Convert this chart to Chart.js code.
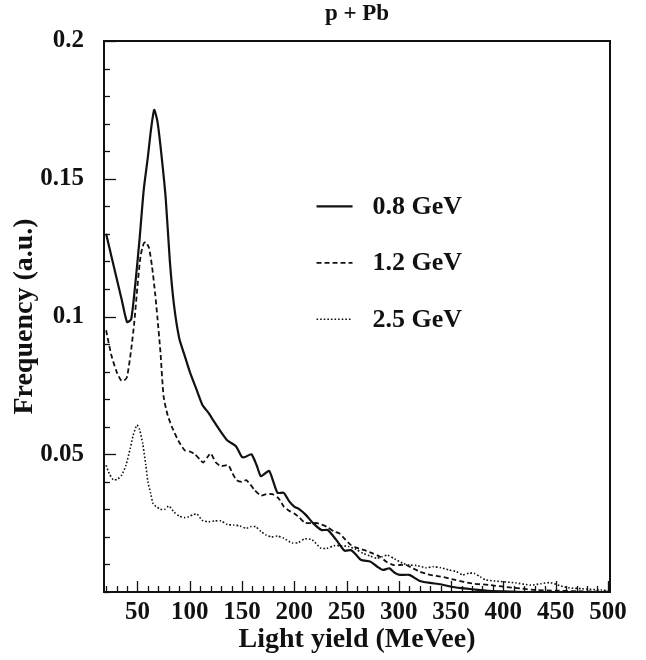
<!DOCTYPE html>
<html>
<head>
<meta charset="utf-8">
<script src="https://cdn.jsdelivr.net/npm/chart.js@4.4.1/dist/chart.umd.min.js"></script>
<style>
  html, body { margin: 0; padding: 0; background: #fff; }
  #wrap { width: 646px; height: 660px; }
</style>
</head>
<body>
<div id="wrap"><canvas id="chart"></canvas></div>
<script>
// ============= DATA =============

const chartTitle = 'p + Pb';
const seriesLabels = ['0.8 GeV', '1.2 GeV', '2.5 GeV'];

// 0.8 GeV (solid)
const x08 = [20, 25, 30, 35, 40, 44, 48, 52, 56, 60, 63, 66, 69, 72, 77, 81, 85, 90, 95, 100,
    106, 112, 118, 123, 130, 136, 144, 150, 153, 159, 164, 168, 172, 176, 180, 184, 190, 195, 200, 205,
    211, 218, 226, 232, 240, 248, 254, 258, 264, 273, 280, 285, 291, 296, 301, 310, 320, 330, 340, 350,
    360, 370, 385, 400, 420, 450, 480, 500];
const y08 = [0.130, 0.122, 0.114, 0.106, 0.098, 0.099, 0.112, 0.128, 0.146, 0.158, 0.168, 0.175, 0.171, 0.162, 0.143, 0.120, 0.104, 0.092, 0.086, 0.080,
    0.074, 0.068, 0.065, 0.062, 0.058, 0.055, 0.053, 0.049, 0.049, 0.050, 0.046, 0.042, 0.043, 0.044, 0.040, 0.036, 0.036, 0.033, 0.031, 0.030,
    0.028, 0.025, 0.0225, 0.0225, 0.019, 0.015, 0.0152, 0.014, 0.0116, 0.011, 0.009, 0.008, 0.0086, 0.007, 0.0062, 0.0062, 0.0040, 0.0033, 0.0028, 0.0019,
    0.0014, 0.0010, 0.0004, 0.0002, 0, 0, 0, 0];

// 1.2 GeV (dashed)
const x12 = [20, 25, 30, 34, 37, 40, 44, 47, 50, 53, 56, 58, 61, 64, 67, 69, 72, 75, 79, 84,
    89, 95, 100, 105, 110, 113, 117, 120, 125, 130, 137, 141, 145, 150, 154, 158, 162, 168, 173, 179,
    185, 190, 195, 200, 205, 210, 216, 222, 231, 238, 243, 249, 254, 260, 267, 275, 282, 288, 295, 301,
    307, 314, 320, 330, 340, 354, 370, 388, 400, 416, 431, 450, 470, 500];
const y12 = [0.095, 0.086, 0.080, 0.077, 0.0767, 0.078, 0.088, 0.098, 0.111, 0.122, 0.1265, 0.127, 0.125, 0.118, 0.108, 0.100, 0.087, 0.071, 0.064, 0.059,
    0.055, 0.0515, 0.051, 0.050, 0.048, 0.047, 0.049, 0.0503, 0.047, 0.0457, 0.046, 0.043, 0.0406, 0.040, 0.0406, 0.039, 0.037, 0.035, 0.0355, 0.0355,
    0.034, 0.031, 0.0295, 0.0285, 0.027, 0.0252, 0.025, 0.025, 0.0237, 0.022, 0.0213, 0.019, 0.0171, 0.016, 0.0152, 0.014, 0.0128, 0.011, 0.0098, 0.0098,
    0.0098, 0.0085, 0.0074, 0.0062, 0.0056, 0.0044, 0.0031, 0.0025, 0.0019, 0.0013, 0.0007, 0.0005, 0.0003, 0.0001];

// 2.5 GeV (dotted)
const x25 = [20, 23, 27, 31, 35, 39, 43, 46, 49.5, 52, 55, 58, 60, 62.5, 65, 68, 72, 76, 80, 85,
    90, 95, 99, 103, 107, 112, 118, 124, 130, 136, 142, 148, 154, 158, 163, 168, 173, 178, 184, 190,
    198, 204, 210, 217, 225, 231, 238, 245, 252, 259, 266, 273, 279, 284, 289, 296, 304, 310, 317, 326,
    333, 340, 348, 355, 361, 367, 372, 378, 383, 392, 400, 412, 426, 436, 445, 455, 463, 475, 494, 500];
const y25 = [0.046, 0.043, 0.0407, 0.041, 0.0425, 0.046, 0.052, 0.057, 0.0606, 0.059, 0.054, 0.046, 0.040, 0.036, 0.032, 0.031, 0.030, 0.030, 0.0312, 0.029,
    0.0275, 0.027, 0.0273, 0.028, 0.0283, 0.026, 0.0255, 0.0258, 0.0258, 0.0245, 0.0243, 0.024, 0.0231, 0.0237, 0.0237, 0.022, 0.0207, 0.020, 0.0203, 0.0195,
    0.0178, 0.018, 0.0193, 0.019, 0.016, 0.0158, 0.0168, 0.0168, 0.0165, 0.0155, 0.014, 0.013, 0.0122, 0.0128, 0.0134, 0.012, 0.0104, 0.0098, 0.0096, 0.0088,
    0.0092, 0.0088, 0.008, 0.0074, 0.0062, 0.0068, 0.0068, 0.0055, 0.0044, 0.004, 0.0037, 0.0033, 0.0025, 0.003, 0.0034, 0.0022, 0.0015, 0.0012, 0.0007, 0.0005];

// Axis ticks
const xMajorTicks = [50, 100, 150, 200, 250, 300, 350, 400, 450, 500];
const xMinorStep = 10;
const yMajorTicks = [0.05, 0.1, 0.15, 0.2];
const yMinorStep = 0.01;

const FONT = "'Liberation Serif', 'DejaVu Serif', serif";
const INK = '#111';

// ============= HELPERS =============

function toPoints(xs, ys) {
    return xs.map((x, i) => ({ x: x, y: ys[i] }));
}

function isMajor(list, v) {
    return list.some(m => Math.abs(m - v) < 1e-6);
}

// title over the plot, frame, inward ticks and legend (like the original plot)
const frameAndLegend = {
    id: 'frameAndLegend',
    afterDatasetsDraw(chart) {
        const { ctx, chartArea: a, scales: { x, y } } = chart;
        ctx.save();
        ctx.strokeStyle = INK;
        ctx.fillStyle = INK;
        ctx.setLineDash([]);

        // title centred over the plot area
        ctx.font = 'bold 23px ' + FONT;
        ctx.textAlign = 'center';
        ctx.textBaseline = 'middle';
        ctx.fillText(chartTitle, (a.left + a.right) / 2, 14);

        // x ticks (pointing up)
        ctx.lineWidth = 1.3;
        x.ticks.forEach(t => {
            const px = Math.round(x.getPixelForValue(t.value)) + 0.5;
            const len = isMajor(xMajorTicks, t.value) ? 11 : 6;
            ctx.beginPath();
            ctx.moveTo(px, a.bottom);
            ctx.lineTo(px, a.bottom - len);
            ctx.stroke();
        });

        // y ticks (pointing right)
        y.ticks.forEach(t => {
            const py = Math.round(y.getPixelForValue(t.value)) + 0.5;
            const len = isMajor(yMajorTicks, t.value) ? 12 : 6;
            ctx.beginPath();
            ctx.moveTo(a.left, py);
            ctx.lineTo(a.left + len, py);
            ctx.stroke();
        });

        // frame
        ctx.lineWidth = 2;
        ctx.strokeRect(a.left, a.top, a.width, a.height);

        // legend
        const lx = a.left + a.width * 0.42;
        const ly = a.top + a.height * 0.30;
        const rowStep = a.height * 0.1025;
        ctx.font = 'bold 26px ' + FONT;
        ctx.textAlign = 'left';
        chart.data.datasets.forEach((ds, i) => {
            const yy = ly + i * rowStep;
            ctx.lineWidth = ds.borderWidth;
            ctx.setLineDash(ds.borderDash || []);
            ctx.beginPath();
            ctx.moveTo(lx, yy);
            ctx.lineTo(lx + 36, yy);
            ctx.stroke();
            ctx.fillText(ds.label, lx + 56, yy + 1);
        });
        ctx.restore();
    }
};

// ============= CHART =============

const ctx = document.getElementById('chart').getContext('2d');
const chart = new Chart(ctx, {
    type: 'line',
    data: {
        datasets: [
            {
                label: seriesLabels[0],
                data: toPoints(x08, y08),
                borderColor: INK,
                borderWidth: 2.2,
                borderDash: [],
                pointRadius: 0,
                tension: 0.2
            },
            {
                label: seriesLabels[1],
                data: toPoints(x12, y12),
                borderColor: INK,
                borderWidth: 1.8,
                borderDash: [5, 3],
                pointRadius: 0,
                tension: 0.2
            },
            {
                label: seriesLabels[2],
                data: toPoints(x25, y25),
                borderColor: INK,
                borderWidth: 1.6,
                borderDash: [1.6, 2],
                pointRadius: 0,
                tension: 0.2
            }
        ]
    },
    options: {
        responsive: true,
        maintainAspectRatio: false,
        animation: false,
        layout: {
            padding: { top: 41, right: 36, bottom: 0, left: 0 }
        },
        plugins: {
            legend: { display: false },
            tooltip: { enabled: false },
            title: { display: false }
        },
        scales: {
            x: {
                type: 'linear',
                min: 18,
                max: 502,
                grid: { display: false },
                border: { display: false },
                afterBuildTicks: (scale) => {
                    const ticks = [];
                    for (let v = 20; v <= 500; v += xMinorStep) ticks.push({ value: v });
                    scale.ticks = ticks;
                },
                afterFit: (scale) => { scale.height = 68; },
                ticks: {
                    autoSkip: false,
                    maxRotation: 0,
                    padding: 0,
                    color: INK,
                    font: { family: FONT, size: 25, weight: 'bold', lineHeight: 1.0 },
                    callback: (v) => isMajor(xMajorTicks, v) ? String(v) : ''
                },
                title: {
                    display: true,
                    text: 'Light yield (MeVee)',
                    color: INK,
                    font: { family: FONT, size: 28, weight: 'bold' },
                    padding: { top: 0, bottom: 3 }
                }
            },
            y: {
                min: 0,
                max: 0.2,
                grid: { display: false },
                border: { display: false },
                afterBuildTicks: (scale) => {
                    const ticks = [];
                    for (let i = 0; i <= 20; i++) ticks.push({ value: +(i * yMinorStep).toFixed(2) });
                    scale.ticks = ticks;
                },
                afterFit: (scale) => { scale.width = 104; },
                ticks: {
                    autoSkip: false,
                    padding: 12,
                    color: INK,
                    font: { family: FONT, size: 25, weight: 'bold' },
                    callback: (v) => isMajor(yMajorTicks, v) ? String(+v.toFixed(2)) : ''
                },
                title: {
                    display: true,
                    text: 'Frequency (a.u.)',
                    color: INK,
                    font: { family: FONT, size: 28, weight: 'bold' },
                    padding: { top: 8, bottom: 0 }
                }
            }
        }
    },
    plugins: [frameAndLegend]
});
</script>
</body>
</html>
